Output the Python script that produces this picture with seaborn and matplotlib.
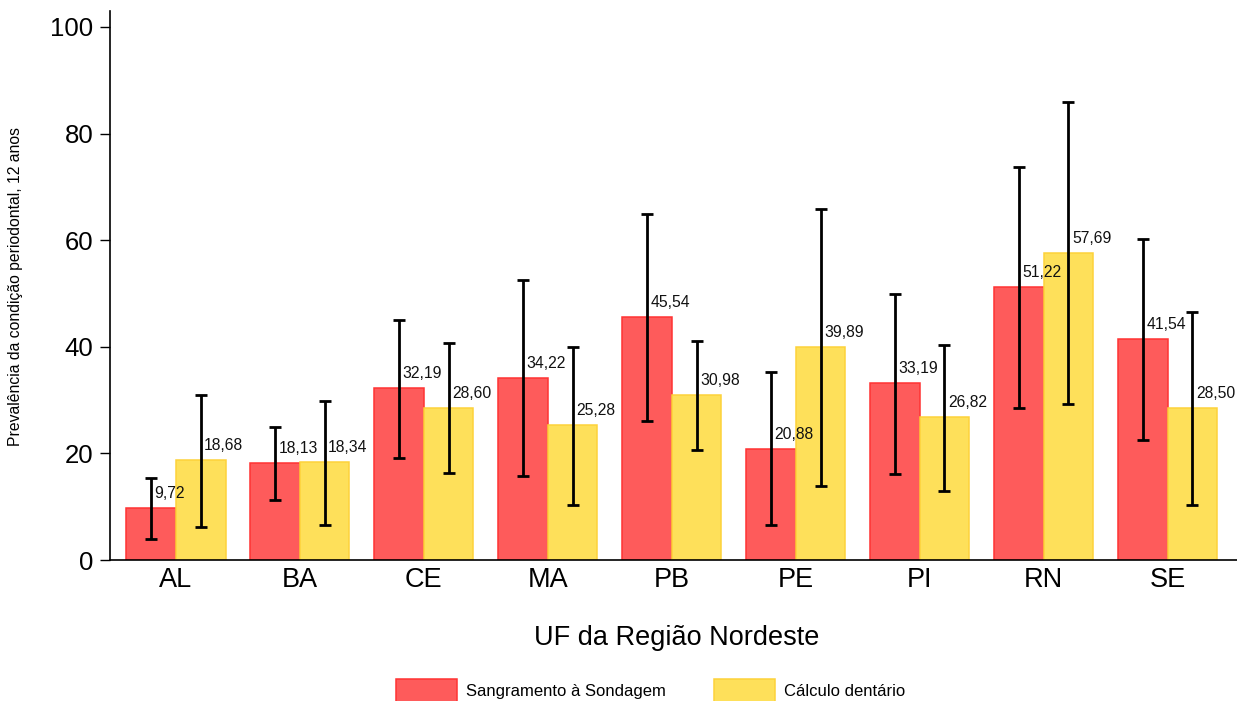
import pandas as pd
import matplotlib
matplotlib.use("Agg")
import matplotlib.pyplot as plt
import seaborn as sns

# Valores
ufs = ["AL", "BA", "CE", "MA", "PB", "PE", "PI", "RN", "SE"]
sangramento = [9.72, 18.13, 32.19, 34.22, 45.54, 20.88, 33.19, 51.22, 41.54]
sangramento_inf = [4.0, 11.2, 19.2, 15.7, 26.0, 6.5, 16.2, 28.5, 22.6]
sangramento_sup = [15.4, 24.9, 45.0, 52.6, 65.0, 35.2, 49.9, 73.7, 60.3]
calculo = [18.68, 18.34, 28.60, 25.28, 30.98, 39.89, 26.82, 57.69, 28.50]
calculo_inf = [6.2, 6.6, 16.3, 10.3, 20.7, 13.8, 13.0, 29.2, 10.3]
calculo_sup = [31.0, 29.9, 40.7, 40.0, 41.0, 65.9, 40.4, 86.0, 46.6]

series = ["Sangramento à Sondagem", "Cálculo dentário"]

df = pd.DataFrame({
    "uf": ufs * 2,
    "condicao": [series[0]] * len(ufs) + [series[1]] * len(ufs),
    "prevalencia": sangramento + calculo,
})
limites = [(sangramento_inf, sangramento_sup), (calculo_inf, calculo_sup)]
valores = [sangramento, calculo]

sns.set_style("ticks")
plt.rcParams["font.family"] = ["Liberation Sans", "DejaVu Sans"]
plt.rcParams["text.color"] = "black"
plt.rcParams["axes.labelcolor"] = "black"
plt.rcParams["xtick.color"] = "black"
plt.rcParams["ytick.color"] = "black"

fig = plt.figure(figsize=(12.37, 7.01), dpi=100)
ax = fig.add_axes([110 / 1237, 1 - 560 / 701, 1 - 110 / 1237, (560 - 11) / 701])

cores = {series[0]: "#fe5b5b", series[1]: "#fee05a"}
bordas = ["#ff3333", "#fdd23a"]

sns.barplot(data=df, x="uf", y="prevalencia", hue="condicao", palette=cores,
            errorbar=None, width=0.8, legend=False, ax=ax, saturation=1)

barras = list(ax.containers)
for i, cont in enumerate(barras):
    xs = []
    for bar in cont.patches:
        bar.set_edgecolor(bordas[i])
        bar.set_linewidth(1.1)
        xs.append(bar.get_x() + bar.get_width() / 2)
    vals = valores[i]
    inf, sup = limites[i]
    ax.errorbar(xs, vals,
                yerr=[[v - lo for v, lo in zip(vals, inf)], [hi - v for v, hi in zip(vals, sup)]],
                fmt="none", ecolor="black", elinewidth=2.0, capsize=4, capthick=2.0, zorder=5)
    for x, v in zip(xs, vals):
        ax.annotate(f"{v:.2f}".replace(".", ","), (x, v), xytext=(2.5, 5),
                    textcoords="offset points", ha="left", va="bottom",
                    fontsize=11.3, color="#111111", zorder=6)

ax.set_ylim(0, 103)
ax.set_xlim(-0.532, 8.56)
ax.set_yticks([0, 20, 40, 60, 80, 100])
ax.tick_params(axis="y", labelsize=18.5, length=7, width=1, pad=5)
ax.tick_params(axis="x", labelsize=19.5, length=0, pad=5)
for s in ["top", "right"]:
    ax.spines[s].set_visible(False)
for s in ["left", "bottom"]:
    ax.spines[s].set_color("black")
    ax.spines[s].set_linewidth(1.2)

ax.set_xlabel("UF da Região Nordeste", fontsize=19.5)
ax.xaxis.set_label_coords((677 - 110) / 1127, -(625 - 560) / 549)
ax.set_ylabel("Prevalência da condição periodontal, 12 anos", fontsize=11.3)
ax.yaxis.set_label_coords(-(110 - 23) / 1127, (560 - 286) / 549)

handles = [plt.Rectangle((0, 0), 1, 1, facecolor=cores[s], edgecolor=bordas[i], linewidth=1.1)
           for i, s in enumerate(series)]
fig.legend(handles, series, loc="center", bbox_to_anchor=(651 / 1237, 1 - 691 / 701),
           ncol=2, frameon=False, fontsize=12, handlelength=3.65, handleheight=1.8,
           columnspacing=2.9, handletextpad=0.55, borderpad=0, borderaxespad=0)

fig.savefig("out.png", dpi=100)
